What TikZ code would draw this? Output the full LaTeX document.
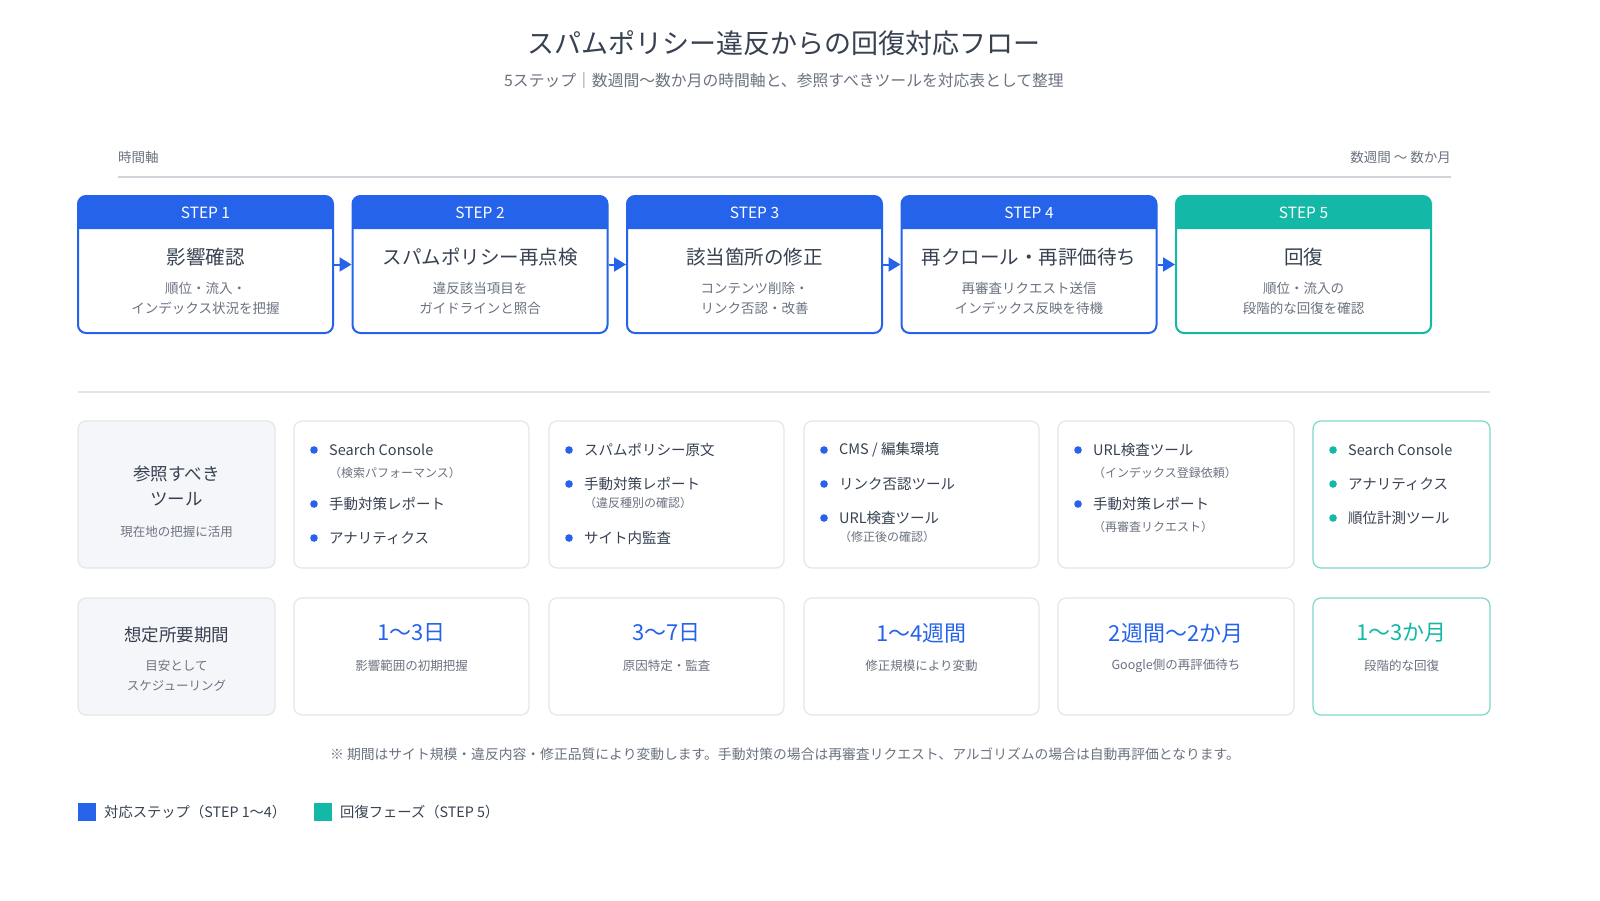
\documentclass[tikz,border=0pt]{standalone}
\usepackage{fontspec}
\setmainfont{Noto Sans CJK JP}
\usepackage{xcolor}
\usepackage{tikz}
\usetikzlibrary{positioning,arrows.meta}
\definecolor{stepblue}{HTML}{2563EB}
\definecolor{stepteal}{HTML}{14B8A6}
\definecolor{textdark}{HTML}{374151}
\definecolor{textgray}{HTML}{6B7280}
\definecolor{axisgray}{HTML}{D1D5DB}
\definecolor{cardline}{HTML}{E3E6EB}
\definecolor{cardfill}{HTML}{F5F6F9}
\definecolor{tealline}{HTML}{7DD8CB}
\newcommand\fsz[2]{\fontsize{#1}{#2}\selectfont}
\newcommand\toolitem[5]{\fill[#4] (#2,#3) circle (3.8pt);
    \node[itm] (#1) at (#2+15,#3) {#5};}
\newcommand\toolnote[4]{\node[itmsub] (#1) at (#2+15,#3) {#4};}

\begin{document}
\begin{tikzpicture}[x=1pt,y=-1pt,
    stepbox/.style={draw=#1,line width=2pt,rounded corners=8pt,minimum width=255pt,minimum height=137pt,inner sep=0pt},
    steplabel/.style={text=white,font=\fsz{15.5}{18}},
    steptitle/.style={text=textdark,font=\fsz{19.5}{23}},
    stepdesc/.style={text=textgray,font=\fsz{13.5}{20},align=center},
    flowarrow/.style={draw=stepblue,line width=2pt,-{Triangle[length=12pt,width=14pt]}},
    card/.style={draw=#1,line width=1.2pt,rounded corners=8pt,fill=white,inner sep=0pt},
    labelcard/.style={draw=cardline,line width=1.2pt,rounded corners=8pt,fill=cardfill,inner sep=0pt,minimum width=197pt},
    itm/.style={anchor=west,inner sep=0pt,text=textdark,font=\fsz{14.5}{17}},
    itmsub/.style={anchor=west,inner sep=0pt,text=textgray,font=\fsz{12}{14}},
    period/.style={font=\fsz{22}{26}},
    perioddesc/.style={text=textgray,font=\fsz{12.5}{15}}]

\useasboundingbox (0,0) rectangle (1600,900);
\fill[white] (0,0) rectangle (1600,900);

\node[text=textdark,font=\fsz{27}{32}] (title) at (784,43) {スパムポリシー違反からの回復対応フロー};
\node[text=textgray,font=\fsz{15.8}{19}] (subtitle) at (784,80) {5ステップ｜数週間〜数か月の時間軸と、参照すべきツールを対応表として整理};

\node[anchor=west,inner sep=0pt,text=textgray,font=\fsz{13.5}{16}] (axisl) at (118,157) {時間軸};
\node[anchor=east,inner sep=0pt,text=textgray,font=\fsz{13.5}{16}] (axisr) at (1451,157) {数週間 〜 数か月};
\draw[axisgray,line width=2pt] (118,177) -- (1451,177);

\foreach \n/\cx/\col/\ttl/\dsc in {
    1/205.5/stepblue/{影響確認}/{順位・流入・\\インデックス状況を把握},
    2/480/stepblue/{スパムポリシー再点検}/{違反該当項目を\\ガイドラインと照合},
    3/754.5/stepblue/{該当箇所の修正}/{コンテンツ削除・\\リンク否認・改善},
    4/1029/stepblue/{再クロール・再評価待ち}/{再審査リクエスト送信\\インデックス反映を待機},
    5/1303.5/stepteal/{回復}/{順位・流入の\\段階的な回復を確認}}{
  \node[stepbox=\col,fill=white] (s\n) at (\cx,264.5) {};
  \fill[\col] (\cx-127.5,229) -- (\cx-127.5,204) arc[start angle=180,end angle=270,radius=8]
     -- (\cx+119.5,196) arc[start angle=270,end angle=360,radius=8] -- (\cx+127.5,229) -- cycle;
  \node[steplabel] (h\n) at (\cx,213) {STEP \n};
  \node[steptitle] (t\n) at (\cx,257) {\ttl};
  \node[stepdesc] (d\n) at (\cx,298) {\dsc};
}
\foreach \a/\b in {1/2,2/3,3/4,4/5}
  \draw[flowarrow] (s\a.east) -- (s\b.west);

\draw[cardline,line width=2pt] (78,392) -- (1490,392);

% tools row
\node[labelcard,minimum height=147pt] (toolhead) at (176.5,494.5) {};
\node[text=textdark,font=\fsz{17.5}{25},align=center] (toolt) at (176.5,486) {参照すべき\\ツール};
\node[text=textgray,font=\fsz{12.5}{15}] (toold) at (176.5,532) {現在地の把握に活用};
\node[card=cardline,minimum width=235pt,minimum height=147pt] (c1) at (411.5,494.5) {};
\node[card=cardline,minimum width=235pt,minimum height=147pt] (c2) at (666.5,494.5) {};
\node[card=cardline,minimum width=235pt,minimum height=147pt] (c3) at (921.5,494.5) {};
\node[card=cardline,minimum width=236pt,minimum height=147pt] (c4) at (1176,494.5) {};
\node[card=tealline,minimum width=177pt,minimum height=147pt] (c5) at (1401.5,494.5) {};

\toolitem{a1}{314}{450}{stepblue}{Search Console}
\toolnote{a1n}{314}{473}{（検索パフォーマンス）}
\toolitem{a2}{314}{504}{stepblue}{手動対策レポート}
\toolitem{a3}{314}{538}{stepblue}{アナリティクス}

\toolitem{b1}{569}{450}{stepblue}{スパムポリシー原文}
\toolitem{b2}{569}{484}{stepblue}{手動対策レポート}
\toolnote{b2n}{569}{503}{（違反種別の確認）}
\toolitem{b3}{569}{538}{stepblue}{サイト内監査}

\toolitem{e1}{824}{450}{stepblue}{CMS / 編集環境}
\toolitem{e2}{824}{484}{stepblue}{リンク否認ツール}
\toolitem{e3}{824}{518}{stepblue}{URL検査ツール}
\toolnote{e3n}{824}{537}{（修正後の確認）}

\toolitem{f1}{1078}{450}{stepblue}{URL検査ツール}
\toolnote{f1n}{1078}{473}{（インデックス登録依頼）}
\toolitem{f2}{1078}{504}{stepblue}{手動対策レポート}
\toolnote{f2n}{1078}{527}{（再審査リクエスト）}

\toolitem{g1}{1333}{450}{stepteal}{Search Console}
\toolitem{g2}{1333}{484}{stepteal}{アナリティクス}
\toolitem{g3}{1333}{518}{stepteal}{順位計測ツール}

% period row
\node[labelcard,minimum height=117pt] (perhead) at (176.5,656.5) {};
\node[text=textdark,font=\fsz{17.5}{21}] (pert) at (176.5,635) {想定所要期間};
\node[text=textgray,font=\fsz{12.5}{20},align=center] (perd) at (176.5,676) {目安として\\スケジューリング};
\node[card=cardline,minimum width=235pt,minimum height=117pt] (p1) at (411.5,656.5) {};
\node[card=cardline,minimum width=235pt,minimum height=117pt] (p2) at (666.5,656.5) {};
\node[card=cardline,minimum width=235pt,minimum height=117pt] (p3) at (921.5,656.5) {};
\node[card=cardline,minimum width=236pt,minimum height=117pt] (p4) at (1176,656.5) {};
\node[card=tealline,minimum width=177pt,minimum height=117pt] (p5) at (1401.5,656.5) {};

\node[period,text=stepblue] (v1) at (411.5,633) {1〜3日};
\node[perioddesc] (w1) at (411.5,666) {影響範囲の初期把握};
\node[period,text=stepblue] (v2) at (666.5,633) {3〜7日};
\node[perioddesc] (w2) at (666.5,666) {原因特定・監査};
\node[period,text=stepblue] (v3) at (921.5,633) {1〜4週間};
\node[perioddesc] (w3) at (921.5,666) {修正規模により変動};
\node[period,text=stepblue] (v4) at (1176,633) {2週間〜2か月};
\node[perioddesc] (w4) at (1176,666) {Google側の再評価待ち};
\node[period,text=stepteal] (v5) at (1401.5,633) {1〜3か月};
\node[perioddesc] (w5) at (1401.5,666) {段階的な回復};

\node[text=textgray,font=\fsz{13.8}{16}] (note) at (785,754) {※ 期間はサイト規模・違反内容・修正品質により変動します。手動対策の場合は再審査リクエスト、アルゴリズムの場合は自動再評価となります。};

% legend
\fill[stepblue] (78,803) rectangle (96,821);
\node[anchor=west,inner sep=0pt,text=textdark,font=\fsz{14.3}{17}] (leg1) at (104,812) {対応ステップ（STEP 1〜4）};
\fill[stepteal] (314,803) rectangle (332,821);
\node[anchor=west,inner sep=0pt,text=textdark,font=\fsz{14.3}{17}] (leg2) at (340,812) {回復フェーズ（STEP 5）};
\end{tikzpicture}
\end{document}
